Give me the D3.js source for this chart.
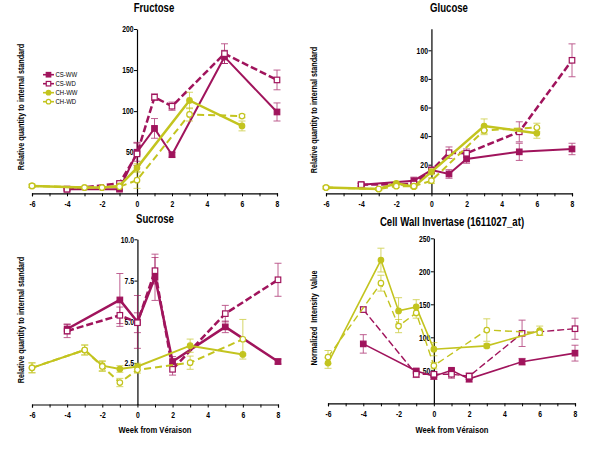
<!DOCTYPE html>
<html><head><meta charset="utf-8">
<script src="https://cdn.jsdelivr.net/npm/d3@7"></script>
<style>
html,body{margin:0;padding:0;background:#fff;}
svg{display:block;font-family:"Liberation Sans",Arial,sans-serif;}
</style></head>
<body>
<svg id="c" width="600" height="450"></svg>
<script>
// ---------- data ----------
const weeksCS = [-4, -1, 0, 1, 2, 5, 8];
const weeksCH = [-6, -3, -2, -1, 0, 3, 6];
const seriesNames = ["CS-WW", "CS-WD", "CH-WW", "CH-WD"];
const xTicks = [-6, -4, -2, 0, 2, 4, 6, 8];

// Fructose
const fruCSWW = [5, 5, 50, 79, 47, 166, 99];
const fruCSWWerr = [1, 2, 11, 12, 3, 8, 11];
const fruCSWD = [5, 12, 48, 117, 106, 170, 138];
const fruCSWDerr = [1, 2, 14, 4, 5, 12, 12];
const fruCHWW = [9, 7, 7, 9, 31, 113, 82];
const fruCHWWerr = [2, 1, 1, 1, 5, 10, 6];
const fruCHWD = [9, 7, 7, 8, 16, 96, 94];
const fruCHWDerr = [2, 1, 1, 1, 10, 8, 2];
const fruTicks = [50, 100, 150, 200];

// Glucose
const gluCSWW = [6, 8.8, 16.3, 13.5, 24, 29, 31];
const gluCSWWerr = [1, 2.5, 2, 3, 3, 6, 4];
const gluCSWD = [6, 6.5, 16, 28.4, 28, 43, 93];
const gluCSWDerr = [1, 1.5, 2, 4, 3, 7, 11.5];
const gluCHWW = [4, 3, 7, 4.6, 15, 47, 42];
const gluCHWWerr = [1, 1, 1, 1, 2, 5, 3.5];
const gluCHWD = [4, 3, 5, 5, 8.8, 44, 46];
const gluCHWDerr = [1, 1, 1, 1, 2, 3, 3];
const gluTicks = [20, 40, 60, 80, 100];

// Sucrose
const sucCSWW = [4.57, 6.33, 5.0, 7.7, 2.6, 4.7, 2.6];
const sucCSWWerr = [0.3, 1.6, 1.6, 1.4, 0.3, 0.35, 0.15];
const sucCSWD = [4.45, 5.4, 4.95, 8.1, 2.13, 5.5, 7.55];
const sucCSWDerr = [0.4, 0.5, 0.6, 0.8, 0.35, 0.5, 1.0];
const sucCHWW = [2.22, 3.3, 2.35, 2.15, 2.3, 3.56, 3.03];
const sucCHWWerr = [0.3, 0.3, 0.3, 0.2, 0.2, 0.4, 0.05];
const sucCHWD = [2.22, 3.3, 2.3, 1.33, 2.1, 2.53, 3.95];
const sucCHWDerr = [0.3, 0.3, 0.3, 0.25, 0.2, 0.4, 1.2];
const sucTicks = [2.5, 5.0, 7.5, 10.0];

// Cell Wall Invertase
const cwiCSWW = [90, 49, 41, 50, 37, 63, 76];
const cwiCSWWerr = [14, 3, 5, 3, 5, 5, 12];
const cwiCSWD = [142, 44, 44, 44, 41, 106, 113];
const cwiCSWDerr = [4, 5, 4, 6, 5, 20, 16];
const cwiCHWW = [61, 217, 140, 146, 82, 87, 110];
const cwiCHWWerr = [8, 18, 20, 11, 10, 3, 7];
const cwiCHWD = [70, 182, 117, 137, 57, 111, 107];
const cwiCHWDerr = [10, 12, 10, 8, 5, 17, 4];
const cwiTicks = [50, 100, 150, 200, 250];

// ---------- styles ----------
const MAG = "#a0145c";
const YEL = "#c3c41f";
const NARROW = 0.8;
const styles = {
  "CS-WW": {color: MAG, dash: null, marker: "square", fill: true},
  "CS-WD": {color: MAG, dash: "7,3", marker: "square", fill: false},
  "CH-WW": {color: YEL, dash: null, marker: "circle", fill: true},
  "CH-WD": {color: YEL, dash: "7,4", marker: "circle", fill: false}
};

const panels = [
  {title: "Fructose", ylabel: "Relative quantity to internal standard", xlabel: null,
   xr: [32, 277], yr: [193.3, 29], yd: [0, 200], ticks: fruTicks, fmt: d3.format("d"),
   titleXY: [154, 12], ylabXY: [21, 107], lw: [2, 2.5, 2.5, 2],
   series: [[weeksCS, fruCSWW, fruCSWWerr], [weeksCS, fruCSWD, fruCSWDerr], [weeksCH, fruCHWW, fruCHWWerr], [weeksCH, fruCHWD, fruCHWDerr]], legend: true},
  {title: "Glucose", ylabel: "Relative quantity to internal standard", xlabel: null,
   xr: [326, 572], yr: [193.3, 50.3 - 15 * 1.43], yd: [0, 115], ticks: gluTicks, fmt: d3.format("d"),
   titleXY: [449, 12], ylabXY: [314, 110], lw: [2, 2.5, 2.5, 2],
   series: [[weeksCS, gluCSWW, gluCSWWerr], [weeksCS, gluCSWD, gluCSWDerr], [weeksCH, gluCHWW, gluCHWWerr], [weeksCH, gluCHWD, gluCHWDerr]]},
  {title: "Sucrose", ylabel: "Relative quantity to internal standard", xlabel: "Week from Véraison",
   xr: [32, 278], yr: [404.5, 239.3], yd: [0, 10], ticks: sucTicks, fmt: d3.format(".1f"),
   titleXY: [155, 223], ylabXY: [21, 320], xlabXY: [155, 433], lw: [2.5, 2.5, 2, 2],
   series: [[weeksCS, sucCSWW, sucCSWWerr], [weeksCS, sucCSWD, sucCSWDerr], [weeksCH, sucCHWW, sucCHWWerr], [weeksCH, sucCHWD, sucCHWDerr]]},
  {title: "Cell Wall Invertase (1611027_at)", ylabel: "Normalized  Intensity  Value", xlabel: "Week from Véraison",
   xr: [328, 575], yr: [403.3, 238.3], yd: [0, 250], ticks: cwiTicks, fmt: d3.format("d"),
   titleXY: [452, 226], ylabXY: [314, 318], xlabXY: [452, 433], lw: [1.6, 1.4, 1.6, 1.4],
   series: [[weeksCS, cwiCSWW, cwiCSWWerr], [weeksCS, cwiCSWD, cwiCSWDerr], [weeksCH, cwiCHWW, cwiCHWWerr], [weeksCH, cwiCHWD, cwiCHWDerr]]}
];

const svg = d3.select("#c");

function drawMarker(g, st, cx, cy, size) {
  if (st.marker === "square") {
    g.append("rect").attr("x", cx - size / 2).attr("y", cy - size / 2)
      .attr("width", size).attr("height", size)
      .attr("fill", st.fill ? st.color : "#fff").attr("stroke", st.color).attr("stroke-width", 1.2);
  } else {
    g.append("circle").attr("cx", cx).attr("cy", cy).attr("r", size / 2)
      .attr("fill", st.fill ? st.color : "#fff").attr("stroke", st.color).attr("stroke-width", 1.2);
  }
}

// narrow text placed at (x,y) with optional rotation
function narrowText(g, x, y, txt, opts) {
  const rot = opts.rotate ? ` rotate(${opts.rotate})` : "";
  return g.append("text")
    .attr("transform", `translate(${x},${y})${rot} scale(${NARROW},1)`)
    .attr("text-anchor", opts.anchor || "middle")
    .attr("dy", opts.dy || null)
    .attr("font-size", opts.size)
    .attr("font-weight", opts.bold ? "bold" : null)
    .attr("fill", "#000")
    .style("white-space", "pre")
    .text(txt);
}

panels.forEach(p => {
  const x = d3.scaleLinear().domain([-6, 8]).range(p.xr);
  const y = d3.scaleLinear().domain(p.yd).range(p.yr);
  const g = svg.append("g");

  // x axis
  const xa = g.append("g").attr("transform", `translate(0,${p.yr[0]})`)
    .call(d3.axisBottom(x).tickValues(d3.range(-6, 9)).tickSize(3).tickFormat(d => xTicks.includes(d) ? d : ""));
  xa.select(".domain").attr("stroke", "#000").attr("stroke-width", 1.2);
  xa.selectAll(".tick line").attr("stroke", "#000");
  xa.selectAll(".tick text").attr("font-size", 8.5).attr("font-weight", "bold").attr("dy", "0.85em")
    .attr("fill", "#000").attr("transform", `scale(${NARROW},1)`);

  // y axis at x = 0
  const ya = g.append("g").attr("transform", `translate(${x(0)},0)`)
    .call(d3.axisLeft(y).tickValues(p.ticks).tickSize(3).tickSizeOuter(0).tickFormat(p.fmt));
  ya.select(".domain").attr("stroke", "#000").attr("stroke-width", 1.2);
  ya.selectAll(".tick line").attr("stroke", "#000");
  ya.selectAll(".tick text").attr("font-size", 8.5).attr("font-weight", "bold").attr("fill", "#000")
    .attr("x", -3.5 / NARROW).attr("transform", `scale(${NARROW},1)`);

  // series
  seriesNames.forEach((name, i) => {
    const st = styles[name];
    const [wk, vals, errs] = p.series[i];
    const pts = wk.map((w, j) => ({w, v: vals[j], e: errs[j]}));
    const sg = g.append("g");
    // error bars
    pts.forEach(d => {
      const eb = sg.append("g").attr("stroke", st.color).attr("stroke-width", 0.9).attr("opacity", 0.75);
      eb.append("line").attr("x1", x(d.w)).attr("x2", x(d.w)).attr("y1", y(d.v - d.e)).attr("y2", y(d.v + d.e));
      eb.append("line").attr("x1", x(d.w) - 3.5).attr("x2", x(d.w) + 3.5).attr("y1", y(d.v - d.e)).attr("y2", y(d.v - d.e));
      eb.append("line").attr("x1", x(d.w) - 3.5).attr("x2", x(d.w) + 3.5).attr("y1", y(d.v + d.e)).attr("y2", y(d.v + d.e));
    });
    sg.append("path").datum(pts)
      .attr("d", d3.line().x(d => x(d.w)).y(d => y(d.v)))
      .attr("fill", "none").attr("stroke", st.color).attr("stroke-width", p.lw[i])
      .attr("stroke-dasharray", st.dash);
    pts.forEach(d => drawMarker(sg, st, x(d.w), y(d.v), 5.5));
  });

  // title
  narrowText(g, p.titleXY[0], p.titleXY[1], p.title, {size: 12, bold: true});
  // y label
  narrowText(g, p.ylabXY[0], p.ylabXY[1], p.ylabel, {size: 9, bold: true, rotate: -90, dy: "0.35em"});
  if (p.xlabel) {
    narrowText(g, p.xlabXY[0], p.xlabXY[1], p.xlabel, {size: 9.5, bold: true});
  }

  // legend
  if (p.legend) {
    const lg = g.append("g");
    seriesNames.forEach((name, i) => {
      const st = styles[name];
      const ly = 74.7 + i * 9;
      lg.append("line").attr("x1", 43).attr("x2", 54).attr("y1", ly).attr("y2", ly)
        .attr("stroke", st.color).attr("stroke-width", 1.6);
      drawMarker(lg, st, 48.5, ly, 4.5);
      narrowText(lg, 55.5, ly, name, {size: 7.5, anchor: "start", dy: "0.35em"});
    });
  }
});
</script>
</body></html>
